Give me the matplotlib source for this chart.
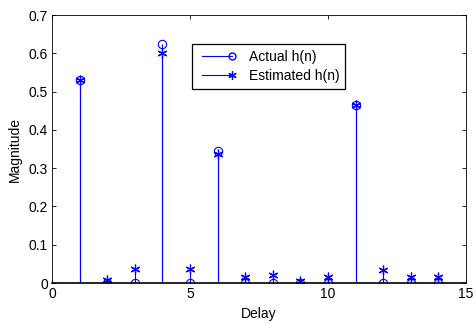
import matplotlib
matplotlib.use("Agg")
import matplotlib.pyplot as plt
from matplotlib.lines import Line2D
from matplotlib.legend_handler import HandlerLine2D

plt.rcParams['font.family'] = ['Liberation Sans', 'DejaVu Sans']

delay = list(range(1, 15))
actual = [0.53, 0, 0, 0.624, 0, 0.346, 0, 0, 0, 0, 0.464, 0, 0, 0]
estimated = [0.53, 0.008, 0.036, 0.602, 0.036, 0.338, 0.016, 0.021, 0.005, 0.017, 0.464, 0.034, 0.016, 0.016]


class EndMarkerHandler(HandlerLine2D):
    def create_artists(self, legend, orig_handle, xdescent, ydescent, width, height, fontsize, trans):
        arts = super().create_artists(legend, orig_handle, xdescent, ydescent, width, height, fontsize, trans)
        for a in arts:
            if isinstance(a, Line2D):
                n = len(a.get_xdata())
                a.set_markevery([n - 1])
        return arts


fig = plt.figure(figsize=(4.75, 3.24), dpi=100)
ax = fig.add_axes([0.1095, 0.1265, 0.8716, 0.827])

blue = '#0000ff'
star = (6, 2, 0)
m1, s1, b1 = ax.stem(delay, actual, basefmt=' ')
plt.setp(s1, color=blue, linewidth=0.8)
plt.setp(m1, marker='o', markersize=6, markerfacecolor='none', markeredgecolor=blue, markeredgewidth=0.8)
m2, s2, b2 = ax.stem(delay, estimated, basefmt=' ')
plt.setp(s2, color=blue, linewidth=0.8)
plt.setp(m2, marker=star, markersize=7, markerfacecolor=blue, markeredgecolor=blue, markeredgewidth=0.9)

ax.set_xlim(0, 15)
ax.set_ylim(0, 0.7)
ax.set_xticks([0, 5, 10, 15])
ax.set_yticks([0, 0.1, 0.2, 0.3, 0.4, 0.5, 0.6, 0.7])
ax.set_yticklabels(['0', '0.1', '0.2', '0.3', '0.4', '0.5', '0.6', '0.7'])
ax.tick_params(direction='in', top=True, right=True, labelsize=10, length=3, width=0.6, pad=3)
for sp in ax.spines.values():
    sp.set_linewidth(0.6)
ax.spines['bottom'].set_linewidth(1.2)
ax.set_xlabel('Delay', fontsize=10, labelpad=4)
ax.set_ylabel('Magnitude', fontsize=10, labelpad=4.5)

handles = [
    Line2D([], [], color=blue, linewidth=0.8, marker='o', markersize=5, markerfacecolor='none'),
    Line2D([], [], color=blue, linewidth=0.8, marker=star, markersize=6, markeredgewidth=0.9),
]
leg = ax.legend(handles, ['Actual h(n)', 'Estimated h(n)'], loc='upper left',
                bbox_to_anchor=(0.338, 0.892), fontsize=10, fancybox=False, framealpha=1,
                edgecolor='black', handlelength=2.8, handletextpad=0.9, borderpad=0.4,
                labelspacing=0.4, numpoints=2, borderaxespad=0,
                handler_map={Line2D: EndMarkerHandler()})
leg.get_frame().set_linewidth(0.9)

fig.savefig('out.png', dpi=100)
